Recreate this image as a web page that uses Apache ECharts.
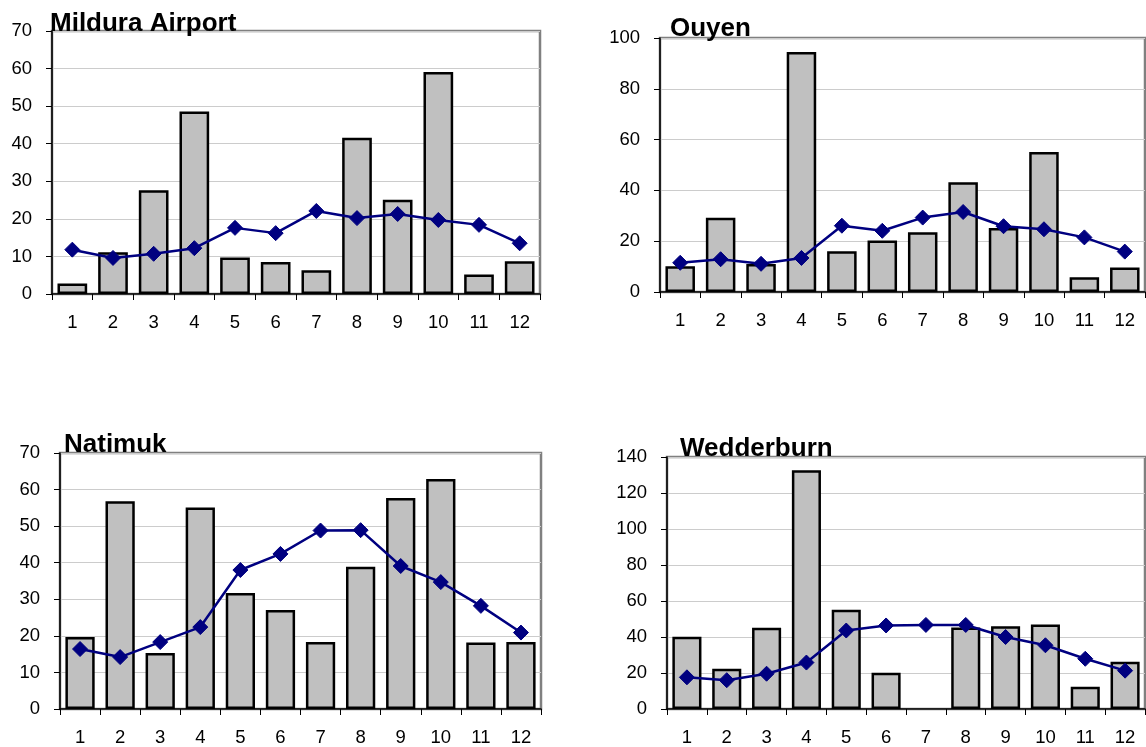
<!DOCTYPE html>
<html>
<head>
<meta charset="utf-8">
<script src="https://cdn.jsdelivr.net/npm/echarts@6/dist/echarts.min.js"></script>
<style>
html,body{margin:0;padding:0;background:#fff;}
#chart{width:1146px;height:747px;}
</style>
</head>
<body>
<div id="chart"></div>
<script>
var months = ['1','2','3','4','5','6','7','8','9','10','11','12'];
var titles = ['Mildura Airport','Ouyen','Natimuk','Wedderburn'];

var milduraBars = [2.8, 11.1, 27.6, 48.6, 9.7, 8.5, 6.3, 41.6, 25.1, 59.1, 5.2, 8.7];
var milduraLine = [11.8, 9.6, 10.7, 12.2, 17.6, 16.2, 22.1, 20.2, 21.3, 19.7, 18.4, 13.5];

var ouyenBars = [10.1, 29.2, 11.0, 94.5, 16.0, 20.3, 23.5, 43.2, 25.2, 55.1, 5.8, 9.6];
var ouyenLine = [11.5, 12.9, 11.1, 13.4, 26.1, 24.1, 29.3, 31.5, 25.9, 24.7, 21.5, 15.9];

var natimukBars = [19.7, 56.8, 15.3, 55.1, 31.7, 27.1, 18.3, 38.9, 57.7, 62.9, 18.2, 18.3];
var natimukLine = [16.4, 14.2, 18.3, 22.4, 38.0, 42.4, 48.8, 48.9, 39.1, 34.7, 28.2, 20.9];

var wedderburnBars = [40.1, 22.3, 45.2, 132.7, 55.1, 20.2, null, 45.3, 46.0, 46.9, 12.4, 26.2];
var wedderburnLine = [17.6, 16.0, 19.6, 25.8, 43.6, 46.4, 46.7, 46.7, 40.0, 35.4, 27.9, 21.3];

var yMax = [70, 100, 70, 140];
var yStep = [10, 20, 10, 20];

var barsAll = [milduraBars, ouyenBars, natimukBars, wedderburnBars];
var linesAll = [milduraLine, ouyenLine, natimukLine, wedderburnLine];

var grids = [
  {left: 52, top: 31, width: 488, height: 263},
  {left: 660, top: 38, width: 485, height: 254},
  {left: 60, top: 453, width: 481, height: 257},
  {left: 667, top: 457, width: 478, height: 254}
];
var titlePos = [
  {left: 50, top: 11},
  {left: 670, top: 16},
  {left: 64, top: 432},
  {left: 680, top: 436}
];

var FONT = 'Liberation Sans, Arial, sans-serif';

var option = {
  backgroundColor: '#fff',
  animation: false,
  title: titles.map(function (t, i) {
    return {
      text: t, left: titlePos[i].left, top: titlePos[i].top, padding: 0,
      textStyle: {fontFamily: FONT, fontWeight: 'bold', fontSize: 26, color: '#000'}
    };
  }),
  grid: grids.map(function (g) {
    return {left: g.left, top: g.top, width: g.width, height: g.height,
      show: true, borderColor: '#808080', borderWidth: 2.5, backgroundColor: 'transparent'};
  }),
  xAxis: grids.map(function (g, i) {
    return {
      type: 'category', gridIndex: i, data: months, boundaryGap: true,
      axisLine: {show: true, lineStyle: {color: '#000', width: 1.5}},
      axisTick: {show: true, alignWithLabel: false, length: 6, lineStyle: {color: '#000', width: 1}},
      axisLabel: {fontFamily: FONT, fontSize: 18.5, color: '#000', margin: 19, interval: 0},
      splitLine: {show: false}
    };
  }),
  yAxis: grids.map(function (g, i) {
    return {
      type: 'value', gridIndex: i, min: 0, max: yMax[i], interval: yStep[i],
      axisLine: {show: true, lineStyle: {color: '#000', width: 1.5}},
      axisTick: {show: true, length: 6, lineStyle: {color: '#000', width: 1}},
      axisLabel: {fontFamily: FONT, fontSize: 18.5, color: '#000', margin: 20},
      splitLine: {show: true, lineStyle: {color: '#cccccc', width: 1}}
    };
  }),
  series: []
};

for (var i = 0; i < 4; i++) {
  option.series.push({
    type: 'bar', xAxisIndex: i, yAxisIndex: i, data: barsAll[i],
    barCategoryGap: '27%',
    itemStyle: {color: '#c0c0c0', borderColor: '#000', borderWidth: 2.5},
    z: 2
  });
  option.series.push({
    type: 'line', xAxisIndex: i, yAxisIndex: i, data: linesAll[i],
    symbol: 'diamond', symbolSize: 15, showSymbol: true,
    lineStyle: {color: '#000080', width: 2.5},
    itemStyle: {color: '#000080', borderColor: '#000080'},
    z: 3
  });
}

var chart = echarts.init(document.getElementById('chart'), null, {renderer: 'canvas'});
chart.setOption(option);
</script>
</body>
</html>
